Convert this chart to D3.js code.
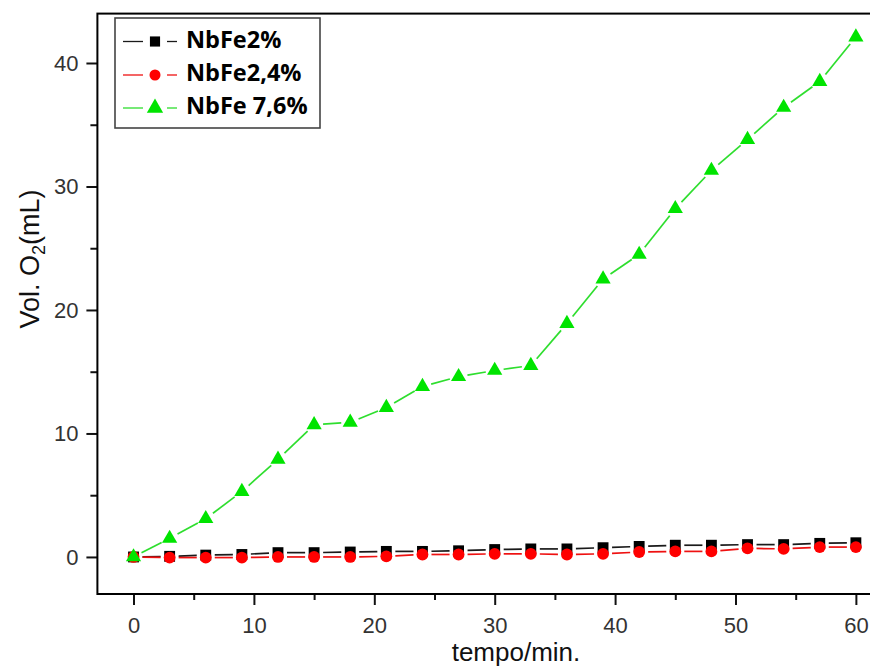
<!DOCTYPE html>
<html>
<head>
<meta charset="utf-8">
<script src="https://cdn.jsdelivr.net/npm/d3@7"></script>
<style>
  html, body { margin: 0; padding: 0; background: #fff; }
  svg { display: block; }
</style>
</head>
<body>
<svg id="chart" width="870" height="667"></svg>
<script>
// Sampling times (min)
const time = [0, 3, 6, 9, 12, 15, 18, 21, 24, 27, 30, 33, 36, 39, 42, 45, 48, 51, 54, 57, 60];

// Evolved O2 volume (mL) per catalyst
const nbfe2  = [0, 0.05, 0.15, 0.2, 0.35, 0.35, 0.4, 0.45, 0.45, 0.5, 0.6, 0.65, 0.65, 0.75, 0.85, 0.95, 0.95, 1.0, 1.0, 1.1, 1.15];
const nbfe24 = [0, -0.05, -0.05, -0.05, 0, 0, 0, 0.05, 0.2, 0.2, 0.25, 0.25, 0.2, 0.25, 0.4, 0.45, 0.45, 0.7, 0.65, 0.8, 0.8];
const nbfe76 = [0, 1.5, 3.1, 5.3, 7.9, 10.7, 10.9, 12.1, 13.8, 14.6, 15.1, 15.5, 18.9, 22.5, 24.5, 28.2, 31.3, 33.8, 36.4, 38.5, 42.1];

const seriesNames = ["NbFe2%", "NbFe2,4%", "NbFe 7,6%"];

// Axis ticks
const xMajor = [0, 10, 20, 30, 40, 50, 60];
const xMinor = [5, 15, 25, 35, 45, 55];
const yMajor = [0, 10, 20, 30, 40];
const yMinor = [5, 15, 25, 35];

const svg = d3.select("#chart");

const x = d3.scaleLinear().domain([-3, 63]).range([97.4, 892]);
const y = d3.scaleLinear().domain([-3, 44]).range([594, 13.6]);

const series = [
  { name: seriesNames[0], values: nbfe2,  line: "#1a1a1a", fill: "#000000", symbol: d3.symbolSquare,   size: 118 },
  { name: seriesNames[1], values: nbfe24, line: "#ee1111", fill: "#ff0000", symbol: d3.symbolCircle,   size: 110 },
  { name: seriesNames[2], values: nbfe76, line: "#2ede2e", fill: "#00e400", symbol: d3.symbolTriangle, size: 100 }
];

const tickFont = "'Liberation Sans', Arial, sans-serif";

// Axes (ticks point outward, frame drawn separately)
function styleAxis(g) {
  g.select(".domain").remove();
  g.selectAll(".tick line").attr("stroke", "#111").attr("stroke-width", 2);
  g.selectAll(".tick text")
    .attr("font-family", tickFont)
    .attr("font-size", 22)
    .attr("fill", "#333");
}

const xAxisG = svg.append("g").attr("transform", `translate(0,${y(-3)})`);
xAxisG.append("g")
  .call(d3.axisBottom(x).tickValues(xMajor).tickSize(11).tickPadding(12).tickFormat(d3.format("d")))
  .call(styleAxis);
xAxisG.append("g")
  .call(d3.axisBottom(x).tickValues(xMinor).tickSize(6).tickFormat(""))
  .call(styleAxis);

const yAxisG = svg.append("g").attr("transform", `translate(${x(-3)},0)`);
yAxisG.append("g")
  .call(d3.axisLeft(y).tickValues(yMajor).tickSize(11).tickPadding(8).tickFormat(d3.format("d")))
  .call(styleAxis);
yAxisG.append("g")
  .call(d3.axisLeft(y).tickValues(yMinor).tickSize(7).tickFormat(""))
  .call(styleAxis);

// Plot frame
svg.append("rect")
  .attr("x", x(-3)).attr("y", y(44))
  .attr("width", x(63) - x(-3)).attr("height", y(-3) - y(44))
  .attr("fill", "none").attr("stroke", "#000").attr("stroke-width", 2);

// Connecting lines with a gap around every symbol
const gap = 9;
function gappedSegments(vals) {
  const segs = [];
  for (let i = 0; i < vals.length - 1; i++) {
    const x1 = x(time[i]), y1 = y(vals[i]);
    const x2 = x(time[i + 1]), y2 = y(vals[i + 1]);
    const dx = x2 - x1, dy = y2 - y1;
    const len = Math.hypot(dx, dy);
    if (len <= 2 * gap) continue;
    const ux = dx / len, uy = dy / len;
    segs.push([x1 + ux * gap, y1 + uy * gap, x2 - ux * gap, y2 - uy * gap]);
  }
  return segs;
}

const plot = svg.append("g");
series.forEach(s => {
  const g = plot.append("g");
  g.selectAll("line")
    .data(gappedSegments(s.values))
    .join("line")
    .attr("x1", d => d[0]).attr("y1", d => d[1])
    .attr("x2", d => d[2]).attr("y2", d => d[3])
    .attr("stroke", s.line).attr("stroke-width", 1.7);
  g.selectAll("path")
    .data(s.values.map((v, i) => [time[i], v]))
    .join("path")
    .attr("d", d3.symbol().type(s.symbol).size(s.size))
    .attr("transform", d => `translate(${x(d[0])},${y(d[1])})`)
    .attr("fill", s.fill);
});

// Axis titles
svg.append("text")
  .attr("x", 516).attr("y", 661.4)
  .attr("text-anchor", "middle")
  .attr("font-family", tickFont).attr("font-size", 26).attr("fill", "#111")
  .text("tempo/min.");

const yTitle = svg.append("text")
  .attr("transform", "translate(39,259) rotate(-90)")
  .attr("text-anchor", "middle")
  .attr("font-family", tickFont).attr("font-size", 27).attr("fill", "#111");
yTitle.append("tspan").text("Vol. O");
yTitle.append("tspan").attr("font-size", 18).attr("dy", 6).text("2");
yTitle.append("tspan").attr("dy", -6).text("(mL)");

// Legend
const legend = svg.append("g");
legend.append("rect")
  .attr("x", 115).attr("y", 18).attr("width", 205).attr("height", 110)
  .attr("fill", "#fff").attr("stroke", "#444").attr("stroke-width", 1.6);

const rowY = [41.5, 75, 108];
series.forEach((s, i) => {
  const row = legend.append("g").attr("transform", `translate(0,${rowY[i]})`);
  row.append("line").attr("x1", 123).attr("x2", 143).attr("y1", 0).attr("y2", 0)
    .attr("stroke", s.line).attr("stroke-width", 1.3);
  row.append("line").attr("x1", 167).attr("x2", 177).attr("y1", 0).attr("y2", 0)
    .attr("stroke", s.line).attr("stroke-width", 1.3);
  row.append("path")
    .attr("d", d3.symbol().type(s.symbol).size(i === 2 ? 115 : s.size - 15))
    .attr("transform", "translate(155,0)")
    .attr("fill", s.fill);
  row.append("text")
    .attr("x", 186).attr("y", 6)
    .attr("font-family", "'Open Sans', 'Noto Sans', sans-serif")
    .attr("font-weight", 700).attr("font-size", 23.5).attr("fill", "#000")
    .text(s.name);
});
</script>
</body>
</html>
